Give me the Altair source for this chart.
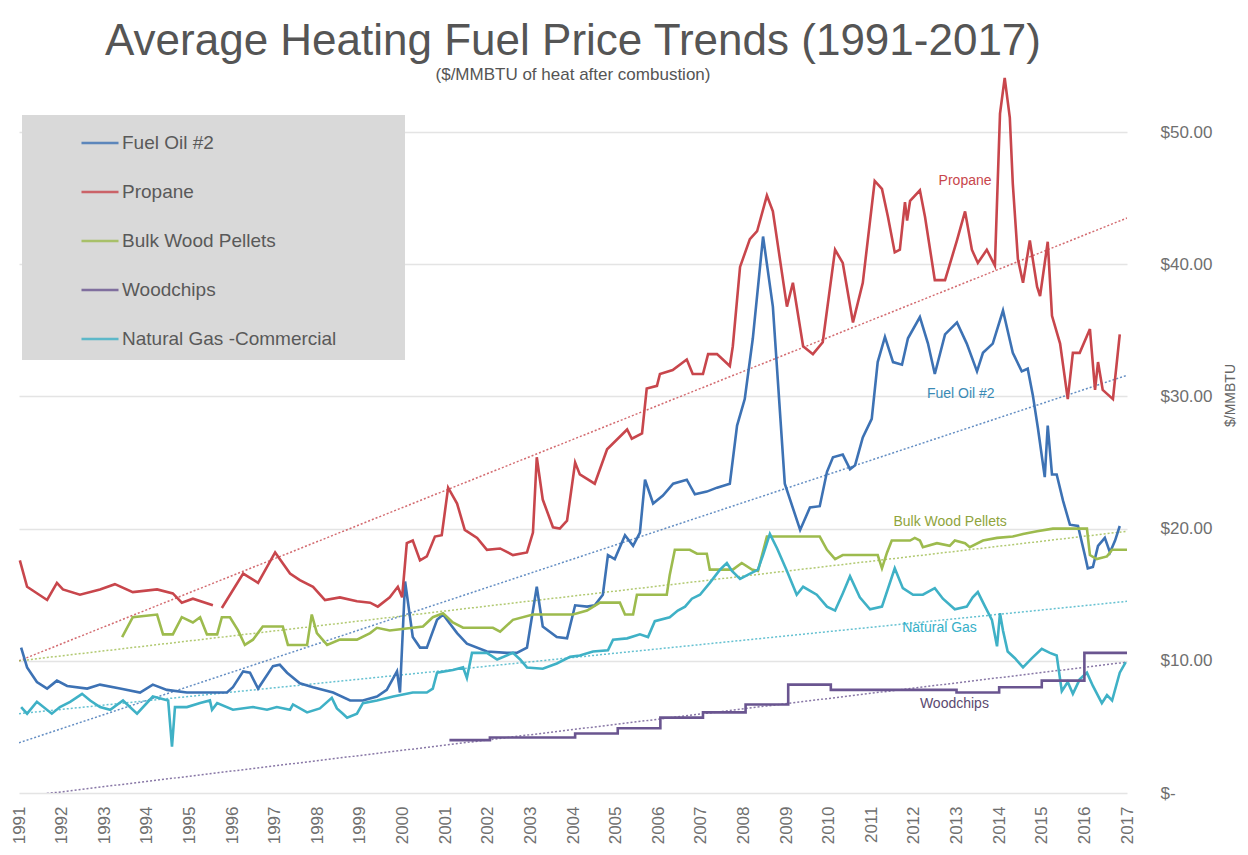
import altair as alt
import pandas as pd

# ---------------- data ----------------
series_names = ["Fuel Oil #2", "Propane", "Bulk Wood Pellets", "Woodchips", "Natural Gas -Commercial"]
series_colors = ["#3d72b4", "#c8464c", "#9dbb4e", "#6a5590", "#3fb1c6"]

fuel_oil_years = [1991.05, 1991.19, 1991.42, 1991.66, 1991.89, 1992.13, 1992.60, 1992.90, 1993.37, 1993.84,
                  1994.14, 1994.47, 1994.94, 1995.48, 1995.88, 1996.02, 1996.26, 1996.42, 1996.61, 1996.96,
                  1997.12, 1997.29, 1997.59, 1997.90, 1998.37, 1998.77, 1999.07, 1999.40, 1999.63, 1999.87,
                  1999.94, 2000.06, 2000.24, 2000.41, 2000.57, 2000.81, 2000.95, 2001.28, 2001.51, 2001.98,
                  2002.45, 2002.68, 2002.92, 2003.15, 2003.29, 2003.62, 2003.86, 2004.05, 2004.33, 2004.51,
                  2004.70, 2004.82, 2004.98, 2005.22, 2005.41, 2005.57, 2005.69, 2005.88, 2006.11, 2006.35,
                  2006.67, 2006.86, 2007.14, 2007.38, 2007.68, 2007.85, 2008.03, 2008.22, 2008.46, 2008.69,
                  2008.97, 2009.33, 2009.56, 2009.79, 2009.96, 2010.10, 2010.33, 2010.50, 2010.62, 2010.80,
                  2011.01, 2011.15, 2011.32, 2011.51, 2011.72, 2011.86, 2012.14, 2012.33, 2012.49, 2012.73,
                  2013.01, 2013.24, 2013.48, 2013.62, 2013.85, 2014.09, 2014.32, 2014.53, 2014.67, 2014.79,
                  2014.91, 2015.07, 2015.14, 2015.24, 2015.35, 2015.50, 2015.66, 2015.85, 2016.01, 2016.08,
                  2016.20, 2016.32, 2016.48, 2016.60, 2016.72, 2016.83]
fuel_oil_values = [11.0, 9.5, 8.4, 7.9, 8.5, 8.1, 7.9, 8.2, 7.9, 7.6,
                   8.2, 7.8, 7.6, 7.6, 7.6, 8.0, 9.2, 9.1, 7.9, 9.6,
                   9.7, 9.1, 8.3, 8.0, 7.6, 7.0, 7.0, 7.3, 7.8, 9.2,
                   7.6, 16.0, 11.8, 11.0, 11.0, 13.1, 13.5, 12.1, 11.3, 10.7,
                   10.6, 10.6, 11.0, 15.6, 12.6, 11.8, 11.7, 14.2, 14.1, 14.2,
                   15.0, 18.0, 17.7, 19.5, 18.7, 19.7, 23.7, 21.9, 22.5, 23.4,
                   23.7, 22.6, 22.8, 23.1, 23.4, 27.8, 29.8, 34.4, 42.1, 36.8,
                   23.4, 19.9, 21.6, 21.7, 24.3, 25.4, 25.6, 24.5, 24.8, 26.9,
                   28.3, 32.6, 34.5, 32.6, 32.4, 34.4, 36.0, 34.0, 31.7, 34.7,
                   35.6, 34.0, 31.9, 33.3, 34.0, 36.5, 33.3, 31.9, 32.1, 30.1,
                   27.6, 23.9, 27.8, 24.1, 24.1, 22.1, 20.3, 20.2, 18.0, 17.0,
                   17.1, 18.7, 19.3, 18.2, 19.1, 20.2]

# None marks the short gap in the propane record (late 1995)
propane_years = [1991.02, 1991.19, 1991.66, 1991.89, 1992.03, 1992.43, 1992.90, 1993.25, 1993.67, 1994.24,
                 1994.61, 1994.82, 1995.08, 1995.55, 1995.65, 1995.76, 1996.26, 1996.61, 1997.01, 1997.36,
                 1997.59, 1997.90, 1998.18, 1998.53, 1998.93, 1999.24, 1999.42, 1999.70, 1999.89, 1999.99,
                 2000.10, 2000.24, 2000.41, 2000.57, 2000.76, 2000.92, 2001.07, 2001.28, 2001.46, 2001.75,
                 2001.98, 2002.29, 2002.59, 2002.92, 2003.06, 2003.15, 2003.29, 2003.53, 2003.69, 2003.86,
                 2004.05, 2004.16, 2004.51, 2004.80, 2005.27, 2005.38, 2005.62, 2005.73, 2005.97, 2006.04,
                 2006.34, 2006.67, 2006.81, 2007.05, 2007.17, 2007.38, 2007.68, 2007.75, 2007.92, 2008.15,
                 2008.32, 2008.55, 2008.69, 2009.02, 2009.16, 2009.40, 2009.63, 2009.86, 2010.15, 2010.33,
                 2010.57, 2010.80, 2011.08, 2011.25, 2011.39, 2011.55, 2011.67, 2011.79, 2011.84, 2011.91,
                 2012.14, 2012.26, 2012.49, 2012.73, 2013.01, 2013.20, 2013.36, 2013.50, 2013.71, 2013.90,
                 2014.02, 2014.13, 2014.25, 2014.32, 2014.44, 2014.56, 2014.72, 2014.89, 2014.96, 2015.14,
                 2015.24, 2015.43, 2015.61, 2015.73, 2015.89, 2016.13, 2016.25, 2016.32, 2016.43, 2016.67,
                 2016.83]
propane_values = [17.6, 15.6, 14.6, 15.9, 15.4, 15.0, 15.4, 15.8, 15.2, 15.4,
                  15.1, 14.4, 14.7, 14.2, None, 14.0, 16.6, 15.9, 18.2, 16.6,
                  16.1, 15.6, 14.6, 14.8, 14.5, 14.4, 14.1, 14.8, 15.6, 14.8,
                  18.9, 19.1, 17.6, 17.9, 19.4, 19.5, 23.1, 21.9, 19.9, 19.3,
                  18.4, 18.5, 18.0, 18.2, 19.7, 25.4, 22.2, 20.1, 20.0, 20.6,
                  25.0, 24.1, 23.4, 26.0, 27.5, 26.8, 27.2, 30.6, 30.8, 31.7,
                  32.0, 32.8, 31.7, 31.7, 33.2, 33.2, 32.3, 33.8, 39.8, 41.9,
                  42.5, 45.2, 44.0, 36.8, 38.6, 33.8, 33.2, 34.1, 41.1, 40.1,
                  35.6, 38.6, 46.3, 45.7, 43.6, 40.9, 41.1, 44.7, 43.3, 44.8,
                  45.6, 43.6, 38.8, 38.8, 41.8, 44.0, 41.1, 40.1, 41.1, 39.9,
                  51.4, 54.1, 51.1, 46.1, 40.4, 38.6, 41.8, 38.3, 37.6, 41.7,
                  36.1, 34.0, 29.8, 33.3, 33.3, 35.1, 30.5, 32.6, 30.5, 29.8,
                  34.7]

pellets_years = [1993.42, 1993.67, 1994.24, 1994.38, 1994.61, 1994.82, 1995.08, 1995.25, 1995.41, 1995.65,
                 1995.76, 1995.95, 1996.14, 1996.30, 1996.49, 1996.72, 1997.19, 1997.31, 1997.76, 1997.87,
                 1997.99, 1998.23, 1998.53, 1998.93, 1999.24, 1999.40, 1999.70, 2000.48, 2000.71, 2000.95,
                 2001.18, 2001.42, 2002.12, 2002.29, 2002.59, 2003.06, 2004.00, 2004.33, 2004.63, 2005.10,
                 2005.22, 2005.41, 2005.50, 2006.20, 2006.27, 2006.39, 2006.74, 2006.91, 2007.14, 2007.21,
                 2007.75, 2007.96, 2008.20, 2008.34, 2008.55, 2009.79, 2009.96, 2010.15, 2010.33, 2011.15,
                 2011.25, 2011.37, 2011.48, 2011.91, 2012.02, 2012.14, 2012.21, 2012.54, 2012.84, 2012.96,
                 2013.20, 2013.31, 2013.62, 2013.95, 2014.32, 2014.56, 2014.89, 2015.26, 2016.06, 2016.13,
                 2016.29, 2016.53, 2016.65, 2017.00]
pellets_values = [11.8, 13.3, 13.5, 12.0, 12.0, 13.3, 12.9, 13.3, 12.0, 12.0,
                  13.3, 13.3, 12.3, 11.2, 11.6, 12.6, 12.6, 11.2, 11.2, 13.5,
                  12.1, 11.2, 11.6, 11.6, 12.1, 12.5, 12.3, 12.6, 13.3, 13.6,
                  12.9, 12.5, 12.5, 12.2, 13.1, 13.5, 13.5, 13.8, 14.4, 14.4,
                  13.5, 13.5, 15.0, 15.0, 16.5, 18.4, 18.4, 18.1, 18.1, 16.9,
                  16.9, 17.4, 16.9, 16.8, 19.4, 19.4, 18.4, 17.7, 18.0, 18.0,
                  17.0, 18.2, 19.1, 19.1, 19.3, 19.1, 18.6, 18.9, 18.7, 19.1,
                  18.9, 18.6, 19.1, 19.3, 19.4, 19.6, 19.8, 20.0, 20.0, 18.0,
                  17.7, 17.9, 18.4, 18.4]

woodchips_years = [2001.10, 2002.05, 2004.05, 2005.05, 2006.05, 2007.05, 2008.05, 2009.05, 2010.05,
                   2013.00, 2014.00, 2015.00, 2016.00, 2017.00]
woodchips_values = [4.0, 4.2, 4.5, 4.9, 5.7, 6.1, 6.7, 8.2, 7.8,
                    7.6, 8.0, 8.5, 10.6, 10.6]

gas_years = [1991.05, 1991.19, 1991.42, 1991.77, 1991.96, 1992.20, 1992.48, 1992.67, 1992.90, 1993.14,
             1993.44, 1993.77, 1994.14, 1994.50, 1994.59, 1994.66, 1994.94, 1995.25, 1995.48, 1995.53,
             1995.65, 1996.02, 1996.49, 1996.82, 1997.05, 1997.36, 1997.43, 1997.76, 1998.06, 1998.34,
             1998.46, 1998.60, 1998.70, 1998.93, 1999.07, 1999.40, 1999.78, 2000.24, 2000.57, 2000.71,
             2000.81, 2001.18, 2001.42, 2001.51, 2001.63, 2001.98, 2002.22, 2002.59, 2002.76, 2002.92,
             2003.29, 2003.62, 2003.93, 2004.16, 2004.47, 2004.82, 2004.94, 2005.27, 2005.57, 2005.76,
             2005.92, 2006.27, 2006.46, 2006.63, 2006.79, 2006.98, 2007.21, 2007.45, 2007.61, 2007.73,
             2007.92, 2008.10, 2008.34, 2008.46, 2008.62, 2008.79, 2009.02, 2009.25, 2009.40, 2009.72,
             2009.96, 2010.15, 2010.33, 2010.50, 2010.73, 2010.97, 2011.25, 2011.55, 2011.74, 2011.98,
             2012.21, 2012.49, 2012.68, 2012.96, 2013.24, 2013.38, 2013.50, 2013.67, 2013.83, 2013.95,
             2014.02, 2014.09, 2014.20, 2014.37, 2014.56, 2014.77, 2015.00, 2015.19, 2015.35, 2015.47,
             2015.61, 2015.73, 2015.89, 2016.06, 2016.20, 2016.41, 2016.53, 2016.65, 2016.83, 2016.97]
gas_values = [6.5, 6.0, 6.9, 6.0, 6.5, 6.9, 7.5, 7.0, 6.5, 6.3,
              7.0, 6.0, 7.3, 7.0, 3.5, 6.5, 6.5, 6.8, 7.0, 6.3,
              6.8, 6.3, 6.5, 6.3, 6.5, 6.3, 6.7, 6.1, 6.4, 7.2,
              6.4, 6.0, 5.7, 6.0, 6.8, 7.0, 7.3, 7.6, 7.6, 7.9,
              9.1, 9.3, 9.5, 8.7, 10.6, 10.6, 10.1, 10.6, 10.1, 9.5,
              9.4, 9.8, 10.3, 10.4, 10.7, 10.8, 11.6, 11.7, 12.0, 11.8,
              13.0, 13.3, 13.8, 14.1, 14.7, 15.0, 15.9, 16.9, 17.4, 16.8,
              16.2, 16.5, 16.9, 18.0, 19.6, 18.5, 16.8, 15.0, 15.6, 15.0,
              14.1, 13.8, 15.1, 16.4, 14.8, 13.9, 14.1, 17.0, 15.5, 15.0,
              15.0, 15.5, 14.7, 13.9, 14.1, 14.8, 15.2, 14.1, 13.1, 11.1,
              13.6, 12.3, 10.7, 10.2, 9.5, 10.2, 10.9, 10.6, 10.4, 7.7,
              8.4, 7.5, 8.6, 9.1, 8.1, 6.8, 7.4, 7.0, 9.1, 9.9]

# linear trend lines (value at 1991 and at 2017), same order as series_names
trend_years = [1991, 2017]
trend_start = [3.8, 10.0, 10.0, -0.3, 6.0]
trend_end = [31.6, 43.5, 19.8, 9.9, 14.5]

# in-plot labels
label_texts = ["Propane", "Fuel Oil #2", "Bulk Wood Pellets", "Natural Gas", "Woodchips"]
label_years = [2013.2, 2013.1, 2012.85, 2012.6, 2012.95]
label_values = [46.3, 30.2, 20.5, 12.5, 6.7]
label_colors = ["#c8464c", "#3a8ab5", "#8fa43c", "#36b0c8", "#5b4a70"]

# ---------------- tables ----------------
series_data = [
    (series_names[0], fuel_oil_years, fuel_oil_values),
    (series_names[1], propane_years, propane_values),
    (series_names[2], pellets_years, pellets_values),
    (series_names[4], gas_years, gas_values),
]
rows = []
for name, ys, vs in series_data:
    seg = 0
    for yr, v in zip(ys, vs):
        if v is None:
            seg += 1
            continue
        rows.append({"series": name, "seg": f"{name}-{seg}", "year": yr, "value": v})
lines_df = pd.DataFrame(rows)

chips_df = pd.DataFrame({"series": series_names[3], "year": woodchips_years, "value": woodchips_values})

trend_rows = []
for name, col, a, b in zip(series_names, series_colors, trend_start, trend_end):
    trend_rows.append({"series": name, "color": col, "year": trend_years[0], "value": a})
    trend_rows.append({"series": name, "color": col, "year": trend_years[1], "value": b})
trend_df = pd.DataFrame(trend_rows)

labels_df = pd.DataFrame({"text": label_texts, "year": label_years, "value": label_values, "color": label_colors})

# ---------------- encodings ----------------
FONT = "Liberation Sans"

x_axis = alt.Axis(values=list(range(1991, 2018)), format="d", labelAngle=270, labelAlign="right",
                  labelBaseline="middle", labelPadding=13, labelFontSize=17, labelColor="#6f6f6f",
                  labelFont=FONT, grid=False, domain=False, ticks=False, title=None, labelFlush=False,
                  labelOverlap=False)
y_axis = alt.Axis(orient="right", values=[0, 10, 20, 30, 40, 50],
                  labelExpr="datum.value === 0 ? '$-' : '$' + format(datum.value, '.2f')",
                  labelPadding=33, labelAlign="left", labelFontSize=17, labelColor="#6f6f6f", labelFont=FONT,
                  grid=True, gridColor="#e4e4e4", gridWidth=1.6, domain=False, ticks=False,
                  title="$/MMBTU", titleAngle=270, titleFontSize=14, titleColor="#666666",
                  titleFont=FONT, titleFontWeight="normal", titleX=103, titleY=329,
                  titleAlign="center", titleBaseline="middle")

x_scale = alt.Scale(domain=[1991, 2017], nice=False, zero=False)
y_scale = alt.Scale(domain=[0, 55], nice=False, zero=False)


def X():
    return alt.X("year:Q", scale=x_scale, axis=x_axis)


def Y():
    return alt.Y("value:Q", scale=y_scale, axis=y_axis)


legend = alt.Legend(orient="none", legendX=61, legendY=57, title=None, symbolType="stroke",
                    symbolSize=1369, symbolStrokeWidth=2.6, labelFontSize=19, labelColor="#595959",
                    labelFont=FONT, labelOffset=2, rowPadding=19, padding=0, labelLimit=400)
color = alt.Color("series:N", scale=alt.Scale(domain=series_names, range=series_colors), legend=legend)

# ---------------- layers ----------------
legend_box = alt.Chart(pd.DataFrame({"k": [0]})).mark_rect(color="#d9d9d9").encode(
    x=alt.value(3), x2=alt.value(386), y=alt.value(49), y2=alt.value(294)
)

trends = alt.Chart(trend_df).mark_line(strokeDash=[2, 2], strokeWidth=1.5, opacity=0.8, clip=True).encode(
    x=X(), y=Y(), color=alt.Color("color:N", scale=None), detail="series:N"
)

lines = alt.Chart(lines_df).mark_line(strokeWidth=2.6).encode(
    x=X(), y=Y(), color=color, detail="seg:N"
)

chips = alt.Chart(chips_df).mark_line(strokeWidth=2.6, interpolate="step-after").encode(
    x=X(), y=Y(), color=color
)

labels = alt.Chart(labels_df).mark_text(fontSize=14, font=FONT, align="center", baseline="middle").encode(
    x=X(), y=Y(), text="text:N", color=alt.Color("color:N", scale=None)
)

chart = alt.layer(legend_box, trends, lines, chips, labels).properties(
    width=1108,
    height=727,
    autosize=alt.AutoSizeParams(type="none"),
    padding={"left": 11, "top": 58, "right": 113, "bottom": 55},
    background="white",
    title=alt.Title(
        text="Average Heating Fuel Price Trends (1991-2017)",
        subtitle="($/MMBTU of heat after combustion)",
        fontSize=44, font=FONT, fontWeight="normal", color="#555555",
        subtitleFontSize=17, subtitleFont=FONT, subtitleColor="#555555", subtitlePadding=3,
        anchor="middle", frame="group", offset=-17,
    ),
).configure_view(stroke=None, strokeWidth=0)

chart.save("out.html", embed_options={"renderer": "svg", "actions": False})
